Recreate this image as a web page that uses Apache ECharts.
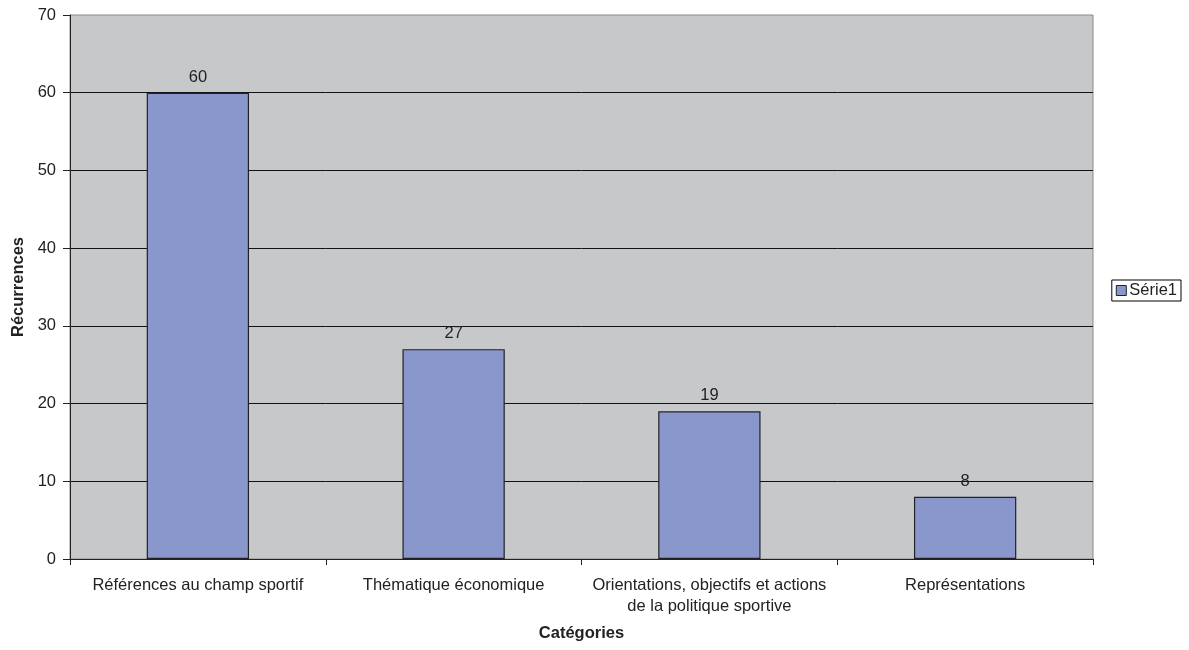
<!DOCTYPE html>
<html><head><meta charset="utf-8">
<script src="https://cdn.jsdelivr.net/npm/echarts@6/dist/echarts.min.js"></script>
<style>html,body{margin:0;padding:0;background:#fff}#c{width:1189px;height:650px}</style>
</head><body><div id="c"></div>
<script>
const categories = ['Références au champ sportif', 'Thématique économique', 'Orientations, objectifs et actions\nde la politique sportive', 'Représentations'];
const values = [60, 27, 19, 8];
const seriesName = 'Série1';
const yTicks = {min: 0, max: 70, interval: 10};

const chart = echarts.init(document.getElementById('c'));
const font = 'Liberation Sans, Arial, sans-serif';
const fs = 16.5;
chart.setOption({
  animation: false,
  textStyle: {fontFamily: font},
  grid: {left: 70, top: 15, right: 96, bottom: 91, show: true, backgroundColor: '#C7C8CA', borderColor: '#8a8a8a', borderWidth: 1},
  legend: {
    data: [seriesName], right: 8, top: 280, orient: 'vertical',
    borderColor: '#000', borderWidth: 1, padding: [2, 4, 2, 4],
    itemWidth: 10, itemHeight: 10, itemGap: 4,
    icon: 'rect',
    itemStyle: {borderColor: '#222', borderWidth: 1},
    textStyle: {fontSize: fs, color: '#222', fontFamily: font, padding: [0, 0, 0, -2]}
  },
  xAxis: {
    type: 'category', data: categories,
    name: 'Catégories', nameLocation: 'middle', nameGap: 66,
    nameTextStyle: {fontWeight: 'bold', fontSize: fs, color: '#222', fontFamily: font},
    axisLine: {lineStyle: {color: '#222', width: 1}},
    axisTick: {show: true, length: 6, lineStyle: {color: '#222'}},
    axisLabel: {fontSize: fs, color: '#222', margin: 16, lineHeight: 21, interval: 0, fontFamily: font}
  },
  yAxis: {
    type: 'value', min: yTicks.min, max: yTicks.max, interval: yTicks.interval,
    name: 'Récurrences', nameLocation: 'middle', nameGap: 42,
    nameTextStyle: {fontWeight: 'bold', fontSize: fs, color: '#222', fontFamily: font},
    axisLine: {show: true, lineStyle: {color: '#222', width: 1}},
    axisTick: {show: true, length: 7, lineStyle: {color: '#222'}},
    axisLabel: {fontSize: fs, color: '#222', margin: 14, fontFamily: font},
    splitLine: {show: true, showMaxLine: false, lineStyle: {color: '#111', width: 1}}
  },
  series: [{
    name: seriesName, type: 'bar', data: values, barWidth: '40%',
    itemStyle: {color: '#8A97CC', borderColor: '#222', borderWidth: 1.2},
    label: {show: true, position: 'top', distance: 7, fontSize: fs, color: '#222', fontFamily: font}
  }]
});
</script></body></html>
